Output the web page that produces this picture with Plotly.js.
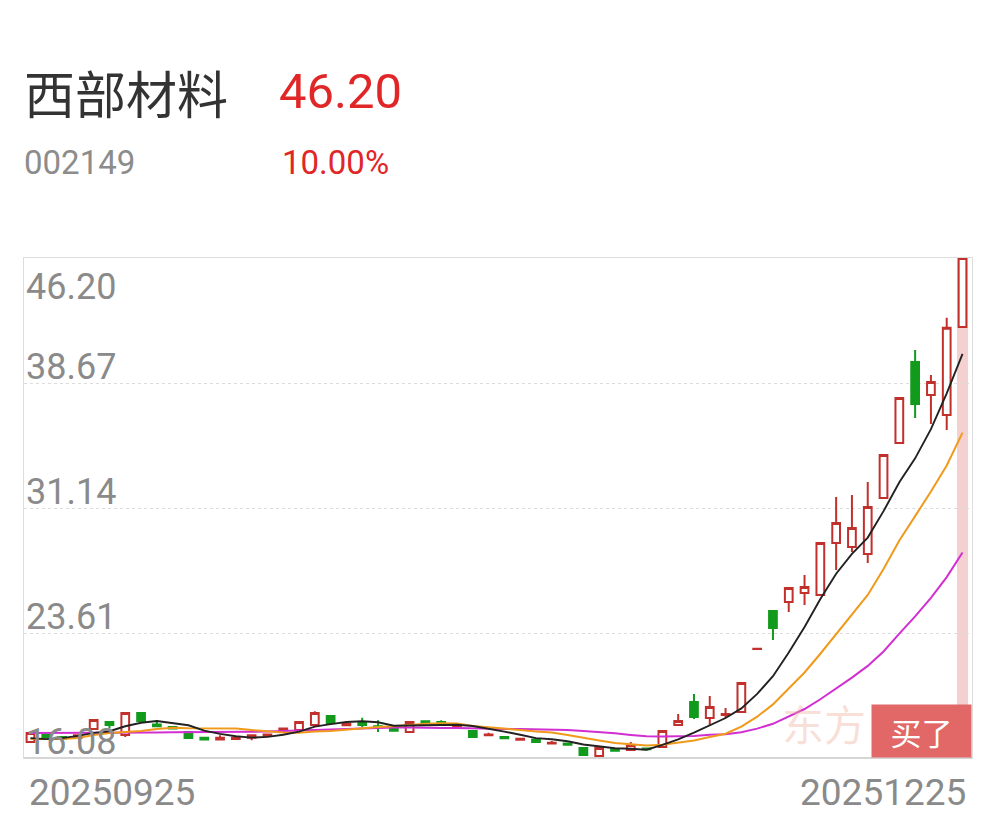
<!DOCTYPE html>
<html>
<head>
<meta charset="utf-8">
<script src="https://cdn.plot.ly/plotly-3.0.1.min.js"></script>
<style>
html,body{margin:0;padding:0;background:#fff;}
#chart{width:996px;height:818px;}
</style>
</head>
<body>
<div id="chart"></div>
<script>
// ---- data ----
const stockName = "西部材料";
const stockCode = "002149";
const lastPrice = "46.20";
const changePct = "10.00%";
const startLabel = "20250925";
const endLabel = "20251225";
const watermark = "东方";
const buyLabel = "买了";

const dates = [
  "2025-09-25","2025-09-26","2025-09-29","2025-09-30",
  "2025-10-09","2025-10-10","2025-10-13","2025-10-14","2025-10-15","2025-10-16","2025-10-17",
  "2025-10-20","2025-10-21","2025-10-22","2025-10-23","2025-10-24",
  "2025-10-27","2025-10-28","2025-10-29","2025-10-30","2025-10-31",
  "2025-11-03","2025-11-04","2025-11-05","2025-11-06","2025-11-07",
  "2025-11-10","2025-11-11","2025-11-12","2025-11-13","2025-11-14",
  "2025-11-17","2025-11-18","2025-11-19","2025-11-20","2025-11-21",
  "2025-11-24","2025-11-25","2025-11-26","2025-11-27","2025-11-28",
  "2025-12-01","2025-12-02","2025-12-03","2025-12-04","2025-12-05",
  "2025-12-08","2025-12-09","2025-12-10","2025-12-11","2025-12-12",
  "2025-12-15","2025-12-16","2025-12-17","2025-12-18","2025-12-19",
  "2025-12-22","2025-12-23","2025-12-24","2025-12-25"
];

const openP = [17.04,17.47,17.35,17.30,17.83,18.25,17.47,18.79,18.10,17.95,
  17.65,17.30,17.20,17.22,17.30,17.40,17.75,17.77,18.07,18.61,
  18.05,18.25,18.00,17.85,17.65,18.30,18.25,18.00,17.70,17.45,
  17.35,17.18,17.20,16.95,16.95,16.68,16.20,16.60,16.56,16.65,
  16.74,18.07,19.45,18.49,18.67,18.85,22.64,24.93,25.48,26.02,
  25.90,29.03,28.79,28.37,31.74,35.06,39.94,37.95,36.74,42.05];
const highP = [17.62,17.55,17.40,17.50,18.40,18.30,18.85,18.85,18.35,18.00,
  17.70,17.35,17.45,17.35,17.50,17.55,17.90,18.30,18.90,18.65,
  18.20,18.50,18.35,17.90,18.30,18.35,18.35,18.10,17.75,17.60,
  17.40,17.30,17.25,17.10,17.00,16.70,16.70,16.65,17.05,16.70,
  17.75,18.73,19.94,19.81,19.09,20.60,22.66,24.93,26.32,27.10,
  29.03,31.80,31.92,32.71,34.33,37.77,40.66,39.15,42.60,46.20];
const lowP = [17.00,17.25,17.20,17.25,17.80,17.85,17.35,18.25,17.95,17.80,
  17.25,17.15,17.15,17.18,17.15,17.35,17.70,17.72,18.00,18.15,
  18.00,17.95,17.65,17.70,17.60,18.15,18.15,17.95,17.30,17.40,
  17.25,17.15,17.00,16.90,16.85,16.20,16.15,16.50,16.50,16.55,
  16.70,18.05,18.43,18.07,18.49,18.85,22.64,23.19,24.88,25.30,
  25.90,27.41,28.49,27.83,31.74,35.06,36.56,36.20,35.84,42.00];
const closeP = [17.59,17.29,17.25,17.45,18.37,18.07,18.79,18.31,18.00,17.85,
  17.29,17.20,17.30,17.30,17.45,17.50,17.85,18.25,18.79,18.19,
  18.15,18.07,17.95,17.72,18.25,18.20,18.20,18.05,17.35,17.50,
  17.27,17.24,17.05,17.00,16.88,16.26,16.68,16.52,16.86,16.60,
  17.71,18.31,18.55,19.15,18.73,20.60,22.66,23.91,26.32,26.38,
  29.03,30.24,29.93,31.20,34.33,37.77,37.41,38.73,42.00,46.20];

const ma5 = [17.28,17.22,17.28,17.41,17.59,17.69,17.99,18.20,18.31,18.20,
  18.05,17.73,17.53,17.39,17.31,17.35,17.48,17.67,17.97,18.12,
  18.25,18.29,18.23,18.02,18.03,18.04,18.06,18.08,18.01,17.86,
  17.67,17.48,17.28,17.21,17.09,16.89,16.77,16.67,16.64,16.58,
  16.87,17.20,17.61,18.06,18.49,19.07,19.94,21.01,22.44,23.97,
  25.66,27.18,28.38,29.36,30.95,32.69,34.13,35.89,38.05,40.42];
const ma10 = [17.22,17.22,17.22,17.28,17.47,17.59,17.65,17.71,17.83,17.90,
  17.87,17.86,17.86,17.85,17.76,17.70,17.61,17.60,17.68,17.71,
  17.80,17.89,17.95,17.99,18.07,18.14,18.18,18.16,18.01,17.94,
  17.86,17.77,17.68,17.61,17.47,17.28,17.13,16.98,16.93,16.84,
  16.88,16.99,17.14,17.35,17.54,17.97,18.57,19.31,20.25,21.23,
  22.36,23.56,24.70,25.90,27.46,29.18,30.65,32.13,33.70,35.68];
const ma20 = [17.58,17.58,17.59,17.59,17.60,17.60,17.61,17.62,17.62,17.63,
  17.63,17.64,17.64,17.65,17.66,17.68,17.70,17.73,17.76,17.80,
  17.83,17.87,17.91,17.92,17.91,17.92,17.89,17.88,17.85,17.83,
  17.83,17.83,17.82,17.80,17.77,17.71,17.65,17.57,17.47,17.39,
  17.37,17.38,17.41,17.48,17.51,17.63,17.85,18.14,18.59,19.03,
  19.62,20.27,20.92,21.63,22.50,23.57,24.61,25.72,26.98,28.46];

const yTicks = [16.08, 23.61, 31.14, 38.67, 46.20];
const yTickText = ["16.08", "23.61", "31.14", "38.67", "46.20"];

// ---- layout helpers (pixel -> paper) ----
const W = 996, H = 818;
const M = {l: 24, r: 24, t: 258, b: 60};
const PW = W - M.l - M.r, PH = H - M.t - M.b;
const px = x => (x - M.l) / PW;
const py = y => (H - M.b - y) / PH;

const RED = '#c2302c', GREEN = '#119a1c';

const traces = [
  {
    type: 'candlestick', x: dates, open: openP, high: highP, low: lowP, close: closeP,
    increasing: {line: {color: RED, width: 2}, fillcolor: '#ffffff'},
    decreasing: {line: {color: GREEN, width: 2}, fillcolor: GREEN},
    whiskerwidth: 0, hoverinfo: 'skip', showlegend: false
  },
  {type: 'scatter', mode: 'lines', x: dates, y: ma20, line: {color: '#d22fd2', width: 2}, hoverinfo: 'skip', showlegend: false},
  {type: 'scatter', mode: 'lines', x: dates, y: ma10, line: {color: '#f09a1c', width: 2}, hoverinfo: 'skip', showlegend: false},
  {type: 'scatter', mode: 'lines', x: dates, y: ma5, line: {color: '#222222', width: 1.9}, hoverinfo: 'skip', showlegend: false}
];

const fam = 'Roboto, "Noto Sans CJK SC", sans-serif';
const cjk = '"Noto Sans CJK SC", sans-serif';
const annotations = [];
// header
annotations.push({text: stockName, xref: 'paper', yref: 'paper', x: px(22), y: py(92), xanchor: 'left', yanchor: 'middle',
  showarrow: false, font: {family: cjk, size: 51, color: '#333333'}});
annotations.push({text: lastPrice, xref: 'paper', yref: 'paper', x: px(277), y: py(92), xanchor: 'left', yanchor: 'middle',
  showarrow: false, font: {family: fam, size: 49, color: '#e02626'}});
annotations.push({text: stockCode, xref: 'paper', yref: 'paper', x: px(22), y: py(162), xanchor: 'left', yanchor: 'middle',
  showarrow: false, font: {family: fam, size: 33, color: '#8c8c8c'}});
annotations.push({text: changePct, xref: 'paper', yref: 'paper', x: px(280), y: py(162), xanchor: 'left', yanchor: 'middle',
  showarrow: false, font: {family: fam, size: 33, color: '#e02626'}});
// y tick labels (inside plot)
yTicks.forEach((v, i) => {
  const top = (i === yTicks.length - 1);
  annotations.push({text: yTickText[i], xref: 'paper', yref: 'y', x: 0, y: v, xanchor: 'left',
    yanchor: top ? 'top' : 'bottom', yshift: top ? -6 : -7, xshift: 0,
    showarrow: false, font: {family: fam, size: 36, color: '#8a8a8a'}});
});
// x labels
annotations.push({text: startLabel, xref: 'paper', yref: 'paper', x: px(27), y: py(792), xanchor: 'left', yanchor: 'middle',
  showarrow: false, font: {family: fam, size: 37, color: '#8a8a8a'}});
annotations.push({text: endLabel, xref: 'paper', yref: 'paper', x: px(968), y: py(792), xanchor: 'right', yanchor: 'middle',
  showarrow: false, font: {family: fam, size: 37, color: '#8a8a8a'}});
// watermark and buy button
annotations.push({text: watermark, xref: 'paper', yref: 'paper', x: px(780), y: py(722), xanchor: 'left', yanchor: 'middle',
  showarrow: false, font: {family: cjk, size: 42, color: 'rgba(238,170,150,0.38)'}});
annotations.push({text: buyLabel, xref: 'paper', yref: 'paper', x: px(921), y: py(731), xanchor: 'center', yanchor: 'middle',
  showarrow: false, width: 95, height: 48, bgcolor: '#e26868', borderpad: 2,
  font: {family: cjk, size: 31, color: '#ffffff'}});

const layout = {
  width: W, height: H,
  margin: M,
  paper_bgcolor: '#ffffff', plot_bgcolor: '#ffffff',
  showlegend: false, hovermode: false, dragmode: false,
  font: {family: fam},
  xaxis: {type: 'category', range: [-0.41, 59.6], showgrid: false, showticklabels: false, ticks: '',
    showline: true, linecolor: '#dddddd', linewidth: 1, mirror: true, zeroline: false,
    rangeslider: {visible: false}, fixedrange: true},
  yaxis: {range: [16.08, 46.20], tickmode: 'array', tickvals: yTicks.slice(1, 4), showticklabels: false, ticks: '',
    showgrid: true, gridcolor: '#dcdcdc', griddash: 'dot', gridwidth: 1,
    showline: true, linecolor: '#dddddd', linewidth: 1, mirror: true, zeroline: false, fixedrange: true},
  shapes: [
    {type: 'rect', xref: 'x', yref: 'paper', x0: 58.65, x1: 59.35, y0: 0, y1: 1, layer: 'below',
      line: {width: 0}, fillcolor: 'rgba(225,110,110,0.32)'},
    {type: 'line', xref: 'paper', yref: 'paper', x0: 0, x1: 1, y0: 0, y1: 0, line: {color: '#d6d6d6', width: 2}}
  ],
  annotations: annotations
};

Plotly.newPlot('chart', traces, layout, {displayModeBar: false, staticPlot: true});
</script>
</body>
</html>
